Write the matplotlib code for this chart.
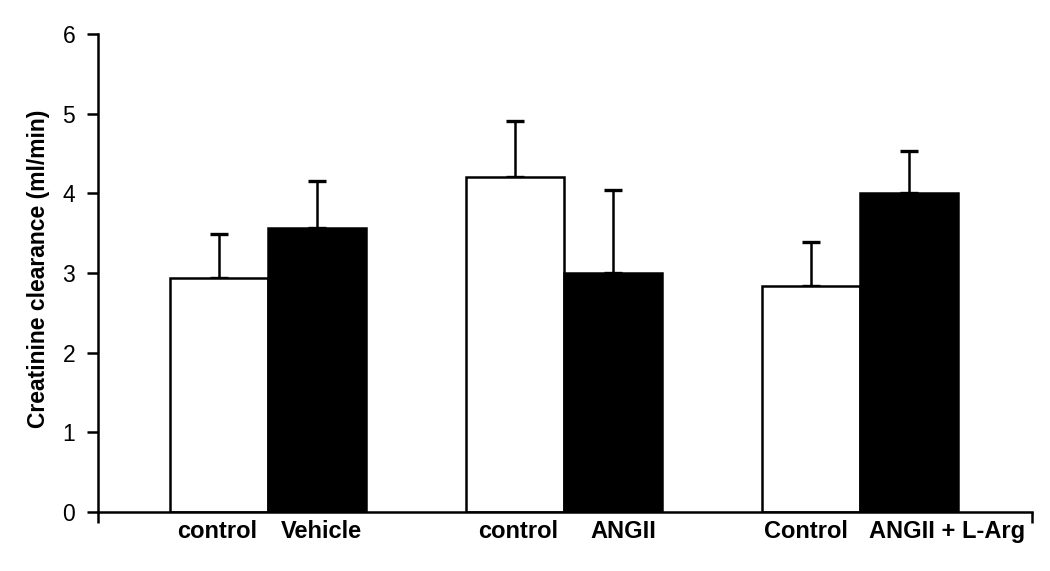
import matplotlib
matplotlib.use("Agg")
import matplotlib.pyplot as plt
import numpy as np

# ---- data ----
groups = ["Vehicle", "ANGII", "ANGII + L-Arg"]
control_labels = ["control", "control", "Control"]
treat_labels = ["Vehicle", "ANGII", "ANGII + L-Arg"]
control_means = [2.94, 4.20, 2.84]
control_err = [0.55, 0.71, 0.55]
treat_means = [3.56, 3.00, 4.00]
treat_err = [0.60, 1.04, 0.53]
yticks = [0, 1, 2, 3, 4, 5, 6]
ylabel = "Creatinine clearance (ml/min)"

# ---- layout ----
plt.rcParams["font.family"] = ["Liberation Sans", "DejaVu Sans"]
fig = plt.figure(figsize=(10.5, 5.71), dpi=100)
ax = fig.add_axes([0.0929, 0.1033, 0.8900, 0.8372])

w = 0.331
x = np.arange(len(groups))
ax.bar(x - w / 2, control_means, width=w, color="white", edgecolor="black",
       linewidth=1.8, zorder=2)
ax.bar(x + w / 2, treat_means, width=w, color="black", edgecolor="black",
       linewidth=1.8, zorder=2)
ax.errorbar(x - w / 2, control_means, yerr=[np.zeros(3), control_err], fmt="none",
            ecolor="black", elinewidth=1.8, capsize=6.5, capthick=2.4, zorder=1)
ax.errorbar(x + w / 2, treat_means, yerr=[np.zeros(3), treat_err], fmt="none",
            ecolor="black", elinewidth=1.8, capsize=6.5, capthick=2.4, zorder=1)

ax.set_xlim(-0.576, 2.581)
ax.set_ylim(0, 6)
ax.set_yticks(yticks)
ax.set_yticklabels([str(t) for t in yticks], fontsize=16.5)
ax.set_xticks([-0.576, 2.581])
ax.set_xticklabels(["", ""])
ax.tick_params(axis="both", direction="out", length=8, width=1.8, color="black")
ax.tick_params(axis="y", pad=8)
for s in ["top", "right"]:
    ax.spines[s].set_visible(False)
for s in ["left", "bottom"]:
    ax.spines[s].set_linewidth(1.8)

ax.set_ylabel(ylabel, fontsize=16.5, fontweight="bold")
ax.yaxis.set_label_coords(-0.051, 0.509)

# category labels (manually placed, offsets relative to group centre)
ctrl_off = [-0.171, -0.155, -0.184]
trt_off = [0.179, 0.199, 0.294]
for i in range(len(groups)):
    ax.text(x[i] + ctrl_off[i], -0.24, control_labels[i], ha="center", va="center",
            fontsize=17, fontweight="bold", clip_on=False)
    ax.text(x[i] + trt_off[i], -0.24, treat_labels[i], ha="center", va="center",
            fontsize=17, fontweight="bold", clip_on=False)

fig.savefig("out.png", dpi=100)
